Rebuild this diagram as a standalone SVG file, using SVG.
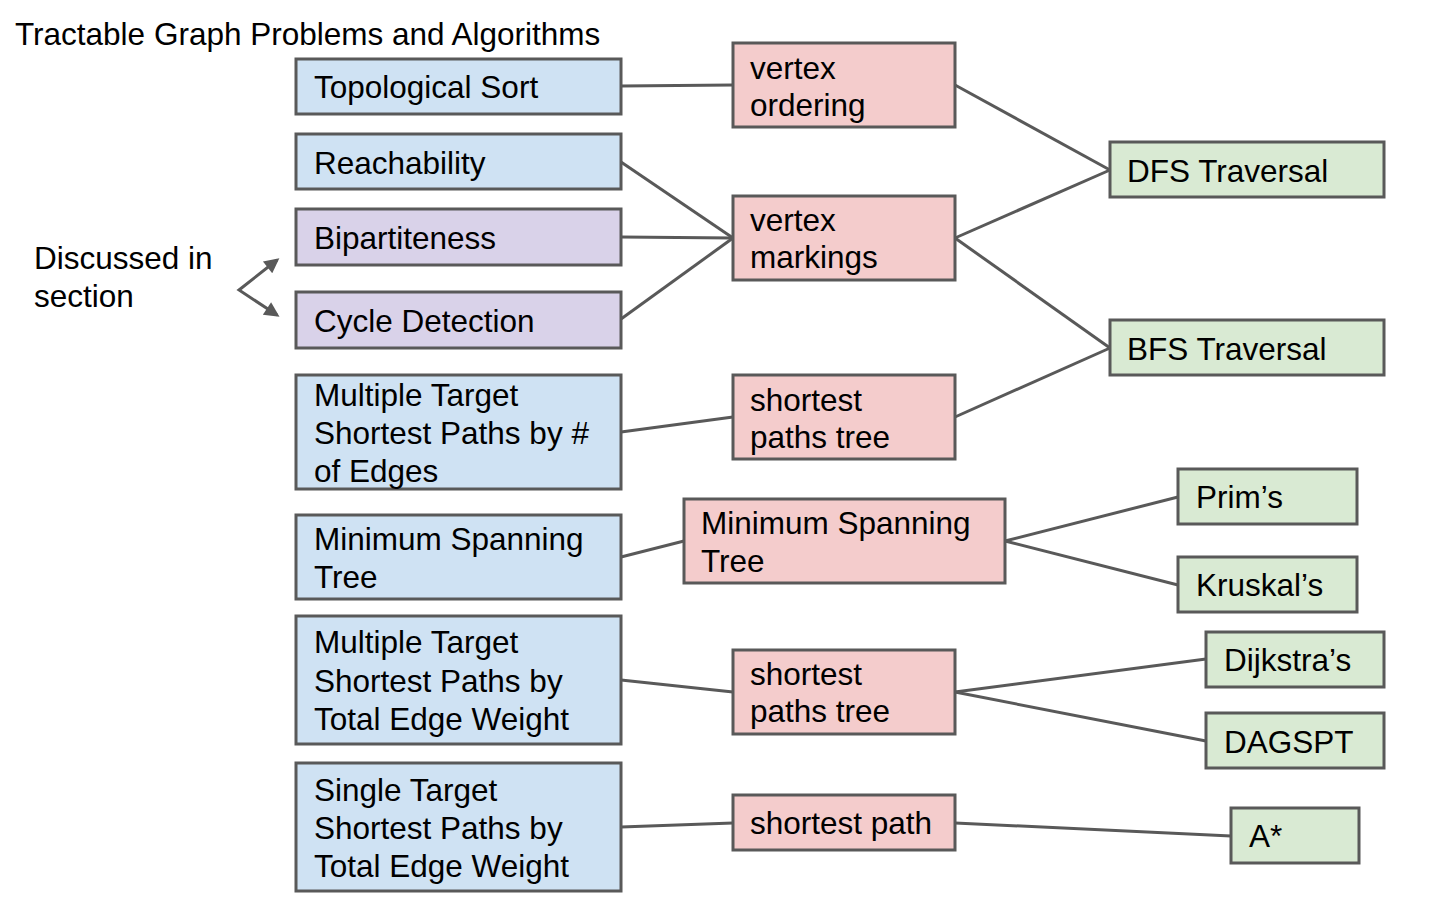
<svg xmlns="http://www.w3.org/2000/svg" width="1432" height="907" viewBox="0 0 1432 907">
<style>
text{font-family:"Liberation Sans",Arial,sans-serif;font-size:31.5px;fill:#000}
.b rect{fill:#cfe2f3;stroke:#595959;stroke-width:3}
.p rect{fill:#d9d2e9;stroke:#595959;stroke-width:3}
.r rect{fill:#f4cccc;stroke:#595959;stroke-width:3}
.g rect{fill:#d9ead3;stroke:#595959;stroke-width:3}
#connectors line,#connectors path{stroke:#595959;stroke-width:3;fill:none}
</style>
<defs>
<marker id="ah" viewBox="0 0 10 10" refX="8" refY="5" markerWidth="6" markerHeight="5" orient="auto-start-reverse" markerUnits="strokeWidth">
<path d="M0,0 L10,5 L0,10 z" fill="#595959"/>
</marker>
</defs>
<rect width="1432" height="907" fill="#fff"/>
<text x="15" y="45">Tractable Graph Problems and Algorithms</text>
<g id="discussed"><text x="34" y="269">Discussed in</text><text x="34" y="307">section</text></g>

<g id="connectors">
<path d="M277,260 L239,290 L277,315" marker-start="url(#ah)" marker-end="url(#ah)"/>
<line x1="621" y1="86" x2="733" y2="85"/>
<line x1="955" y1="85" x2="1110" y2="170"/>
<line x1="621" y1="162" x2="733" y2="238"/>
<line x1="621" y1="237" x2="733" y2="238"/>
<line x1="621" y1="319" x2="733" y2="238"/>
<line x1="955" y1="238" x2="1110" y2="170"/>
<line x1="955" y1="238" x2="1110" y2="348"/>
<line x1="955" y1="417" x2="1110" y2="348"/>
<line x1="621" y1="432" x2="733" y2="417"/>
<line x1="621" y1="557" x2="684" y2="541"/>
<line x1="1005" y1="541" x2="1178" y2="497"/>
<line x1="1005" y1="541" x2="1178" y2="585"/>
<line x1="621" y1="680" x2="733" y2="692"/>
<line x1="955" y1="692" x2="1206" y2="659"/>
<line x1="955" y1="692" x2="1206" y2="741"/>
<line x1="621" y1="827" x2="733" y2="823"/>
<line x1="955" y1="823" x2="1231" y2="836"/>
</g>

<g id="topo" class="b"><rect x="296" y="59" width="325" height="55"/><text x="314" y="98">Topological Sort</text></g>
<g id="reach" class="b"><rect x="296" y="134" width="325" height="55"/><text x="314" y="174">Reachability</text></g>
<g id="bip" class="p"><rect x="296" y="209" width="325" height="56"/><text x="314" y="249">Bipartiteness</text></g>
<g id="cycle" class="p"><rect x="296" y="292" width="325" height="56"/><text x="314" y="332">Cycle Detection</text></g>
<g id="mtedges" class="b"><rect x="296" y="375" width="325" height="114"/><text x="314" y="406">Multiple Target</text><text x="314" y="444">Shortest Paths by #</text><text x="314" y="482">of Edges</text></g>
<g id="mstl" class="b"><rect x="296" y="515" width="325" height="84"/><text x="314" y="550">Minimum Spanning</text><text x="314" y="588">Tree</text></g>
<g id="mtweight" class="b"><rect x="296" y="616" width="325" height="128"/><text x="314" y="653">Multiple Target</text><text x="314" y="692">Shortest Paths by</text><text x="314" y="730">Total Edge Weight</text></g>
<g id="stweight" class="b"><rect x="296" y="763" width="325" height="128"/><text x="314" y="801">Single Target</text><text x="314" y="839">Shortest Paths by</text><text x="314" y="877">Total Edge Weight</text></g>

<g id="vorder" class="r"><rect x="733" y="43" width="222" height="84"/><text x="750" y="79">vertex</text><text x="750" y="116">ordering</text></g>
<g id="vmark" class="r"><rect x="733" y="196" width="222" height="84"/><text x="750" y="231">vertex</text><text x="750" y="268">markings</text></g>
<g id="spt1" class="r"><rect x="733" y="375" width="222" height="84"/><text x="750" y="411">shortest</text><text x="750" y="448">paths tree</text></g>
<g id="mstm" class="r"><rect x="684" y="499" width="321" height="84"/><text x="701" y="534">Minimum Spanning</text><text x="701" y="572">Tree</text></g>
<g id="spt2" class="r"><rect x="733" y="650" width="222" height="84"/><text x="750" y="685">shortest</text><text x="750" y="722">paths tree</text></g>
<g id="sp" class="r"><rect x="733" y="795" width="222" height="55"/><text x="750" y="834">shortest path</text></g>

<g id="dfs" class="g"><rect x="1110" y="142" width="274" height="55"/><text x="1127" y="182">DFS Traversal</text></g>
<g id="bfs" class="g"><rect x="1110" y="320" width="274" height="55"/><text x="1127" y="360">BFS Traversal</text></g>
<g id="prim" class="g"><rect x="1178" y="469" width="179" height="55"/><text x="1196" y="508">Prim’s</text></g>
<g id="kruskal" class="g"><rect x="1178" y="557" width="179" height="55"/><text x="1196" y="596">Kruskal’s</text></g>
<g id="dijkstra" class="g"><rect x="1206" y="632" width="178" height="55"/><text x="1224" y="671">Dijkstra’s</text></g>
<g id="dagspt" class="g"><rect x="1206" y="713" width="178" height="55"/><text x="1224" y="753">DAGSPT</text></g>
<g id="astar" class="g"><rect x="1231" y="808" width="128" height="55"/><text x="1249" y="847">A*</text></g>
</svg>
